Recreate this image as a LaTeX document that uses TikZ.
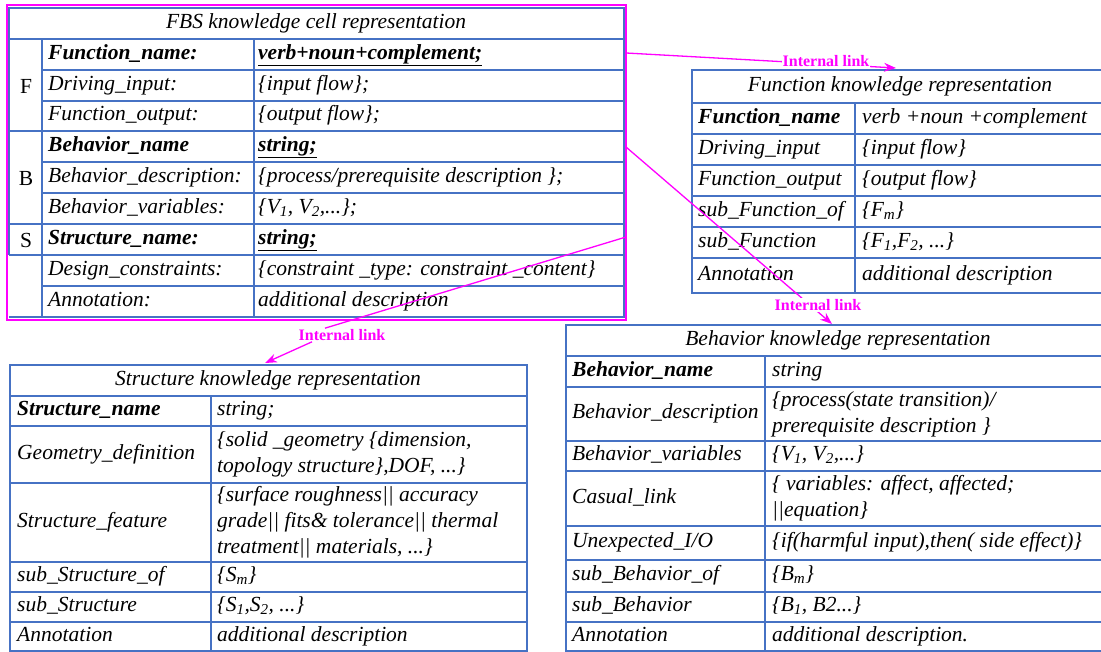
\documentclass[tikz,border=0pt]{standalone}
\usepackage{fontspec}
\setmainfont{Liberation Serif}
\usepackage{tikz}
\usetikzlibrary{arrows.meta}

\definecolor{cellblue}{RGB}{70,114,196}
\definecolor{linkmagenta}{RGB}{255,0,255}

\newcommand{\cellsize}{\fontsize{21.5}{26}\selectfont}

\begin{document}
\begin{tikzpicture}[x=1pt,y=-1pt,
	outer/.style={draw=cellblue,line width=2.4pt},
	inner/.style={draw=cellblue,line width=1.3pt},
	multicell/.style={anchor=west,inner sep=0pt,align=left,font=\cellsize\itshape},
	cell/.style={multicell,text height=14.5pt,text depth=5pt},
	keycell/.style={cell,font=\cellsize\bfseries\itshape},
	title/.style={inner sep=0pt,text height=14.5pt,text depth=5pt,font=\cellsize\itshape},
	letter/.style={inner sep=0pt,font=\cellsize},
	link/.style={draw=linkmagenta,line width=1.3pt},
	linkto/.style={link,-{Stealth[length=12pt,width=9pt]}},
	linktext/.style={inner sep=1pt,text=linkmagenta,font=\fontsize{16}{18}\selectfont\bfseries}]

	\path[use as bounding box] (0,0) rectangle (1101,652);
	\clip (0,0) rectangle (1101,652);

	% ---- FBS knowledge cell

	\foreach \y in {70,101,162,193,286} { \draw[inner] (42,\y) -- (624,\y); }
	\draw[inner] (42,39) -- (42,317);
	\draw[inner] (254,39) -- (254,317);
	\foreach \y in {39,131,224,255} { \draw[outer] (9,\y) -- (624,\y); }
	\draw[outer] (9,255) -- (9,8) -- (624,8) -- (624,317) -- (9,317);
	\draw[link] (7,5) rectangle (626,320);

	\node[title] (fbsTitle) at (316,23.5) {FBS knowledge cell representation};
	\node[letter] (fbsF) at (26,86) {F};
	\node[letter] (fbsB) at (26,178) {B};
	\node[letter] (fbsS) at (26,240) {S};

	\node[keycell] (fbsK1) at (48,54.5) {Function\_name:};
	\node[keycell] (fbsV1) at (258,54.5) {\underline{verb+noun+complement;}};
	\node[cell] (fbsK2) at (48,85.5) {Driving\_input:};
	\node[cell] (fbsV2) at (258,85.5) {\{input flow\};};
	\node[cell] (fbsK3) at (48,116) {Function\_output:};
	\node[cell] (fbsV3) at (258,116) {\{output flow\};};
	\node[keycell] (fbsK4) at (48,146.5) {Behavior\_name};
	\node[keycell] (fbsV4) at (258,146.5) {\underline{string;}};
	\node[cell] (fbsK5) at (48,177.5) {Behavior\_description:};
	\node[cell] (fbsV5) at (258,177.5) {\{process/prerequisite description \};};
	\node[cell] (fbsK6) at (48,208.5) {Behavior\_variables:};
	\node[cell] (fbsV6) at (258,208.5) {\{V\textsubscript{1}, V\textsubscript{2},...\};};
	\node[keycell] (fbsK7) at (48,239.5) {Structure\_name:};
	\node[keycell] (fbsV7) at (258,239.5) {\underline{string;}};
	\node[cell] (fbsK8) at (48,270.5) {Design\_constraints:};
	\node[cell] (fbsV8) at (258,270.5) {\{constraint \_type: constraint \_content\}};
	\node[cell] (fbsK9) at (48,301.5) {Annotation:};
	\node[cell] (fbsV9) at (258,301.5) {additional description};

	% ---- function knowledge

	\foreach \y in {103,134,165,196,227,258} { \draw[inner] (692,\y) -- (1110,\y); }
	\draw[inner] (855,103) -- (855,293);
	\draw[outer] (692,70) rectangle (1110,293);

	\node[title] (funcTitle) at (900,86.5) {Function knowledge representation};
	\node[keycell] (funcK1) at (698,118.5) {Function\_name};
	\node[cell] (funcV1) at (862,118.5) {verb +noun +complement};
	\node[cell] (funcK2) at (698,149.5) {Driving\_input};
	\node[cell] (funcV2) at (862,149.5) {\{input flow\}};
	\node[cell] (funcK3) at (698,180.5) {Function\_output};
	\node[cell] (funcV3) at (862,180.5) {\{output flow\}};
	\node[cell] (funcK4) at (698,211.5) {sub\_Function\_of};
	\node[cell] (funcV4) at (862,211.5) {\{F\textsubscript{m}\}};
	\node[cell] (funcK5) at (698,242.5) {sub\_Function};
	\node[cell] (funcV5) at (862,242.5) {\{F\textsubscript{1},F\textsubscript{2}, ...\}};
	\node[cell] (funcK6) at (698,275.5) {Annotation};
	\node[cell] (funcV6) at (862,275.5) {additional description};

	% ---- behavior knowledge

	\foreach \y in {356,387,441,471,526,560,592,622} { \draw[inner] (566,\y) -- (1110,\y); }
	\draw[inner] (765,356) -- (765,651);
	\draw[outer] (566,325) rectangle (1110,651);

	\node[title] (behTitle) at (838,340.5) {Behavior knowledge representation};
	\node[keycell] (behK1) at (572,371.5) {Behavior\_name};
	\node[cell] (behV1) at (772,371.5) {string};
	\node[cell] (behK2) at (572,414) {Behavior\_description};
	\node[multicell] (behV2) at (772,414) {\{process(state transition)/\\prerequisite description \}};
	\node[cell] (behK3) at (572,456) {Behavior\_variables};
	\node[cell] (behV3) at (772,456) {\{V\textsubscript{1}, V\textsubscript{2},...\}};
	\node[cell] (behK4) at (572,498.5) {Casual\_link};
	\node[multicell] (behV4) at (772,498.5) {\{ variables: affect, affected;\\||equation\}};
	\node[cell] (behK5) at (572,543) {Unexpected\_I/O};
	\node[cell] (behV5) at (772,543) {\{if(harmful input),then( side effect)\}};
	\node[cell] (behK6) at (572,576) {sub\_Behavior\_of};
	\node[cell] (behV6) at (772,576) {\{B\textsubscript{m}\}};
	\node[cell] (behK7) at (572,607) {sub\_Behavior};
	\node[cell] (behV7) at (772,607) {\{B\textsubscript{1}, B2...\}};
	\node[cell] (behK8) at (572,636.5) {Annotation};
	\node[cell] (behV8) at (772,636.5) {additional description.};

	% ---- structure knowledge

	\foreach \y in {396,426,483,562,592,622} { \draw[inner] (10,\y) -- (527,\y); }
	\draw[inner] (211,396) -- (211,651);
	\draw[outer] (10,365) rectangle (527,651);

	\node[title] (strTitle) at (268,381) {Structure knowledge representation};
	\node[keycell] (strK1) at (17,411) {Structure\_name};
	\node[cell] (strV1) at (217,411) {string;};
	\node[cell] (strK2) at (17,454.5) {Geometry\_definition};
	\node[multicell] (strV2) at (217,454.5) {\{solid \_geometry \{dimension,\\topology structure\},DOF, ...\}};
	\node[cell] (strK3) at (17,522.5) {Structure\_feature};
	\node[multicell] (strV3) at (217,522.5) {\{surface roughness|| accuracy\\grade|| fits\& tolerance|| thermal\\treatment|| materials, ...\}};
	\node[cell] (strK4) at (17,577) {sub\_Structure\_of};
	\node[cell] (strV4) at (217,577) {\{S\textsubscript{m}\}};
	\node[cell] (strK5) at (17,607) {sub\_Structure};
	\node[cell] (strV5) at (217,607) {\{S\textsubscript{1},S\textsubscript{2}, ...\}};
	\node[cell] (strK6) at (17,636.5) {Annotation};
	\node[cell] (strV6) at (217,636.5) {additional description};

	% ---- internal links

	\coordinate (fbsOutF) at (626,53);
	\coordinate (fbsOutB) at (626,147);
	\coordinate (fbsOutS) at (626,237);
	\coordinate (funcIn) at (896,68);
	\coordinate (behIn) at (832,324);
	\coordinate (strIn) at (265,363);

	\draw[linkto] (fbsOutF) -- (funcIn);
	\node[linktext,fill=white] (lnkF) at (826,61) {Internal link};

	\draw[linkto] (fbsOutB) -- (behIn);
	\node[linktext,fill=white] (lnkB) at (818,305) {Internal link};

	\node[linktext] (lnkS) at (342,335) {Internal link};
	\draw[link] (fbsOutS) -- ([xshift=-17pt]lnkS.north);
	\draw[linkto] ([xshift=-30pt]lnkS.south) -- (strIn);

\end{tikzpicture}
\end{document}
